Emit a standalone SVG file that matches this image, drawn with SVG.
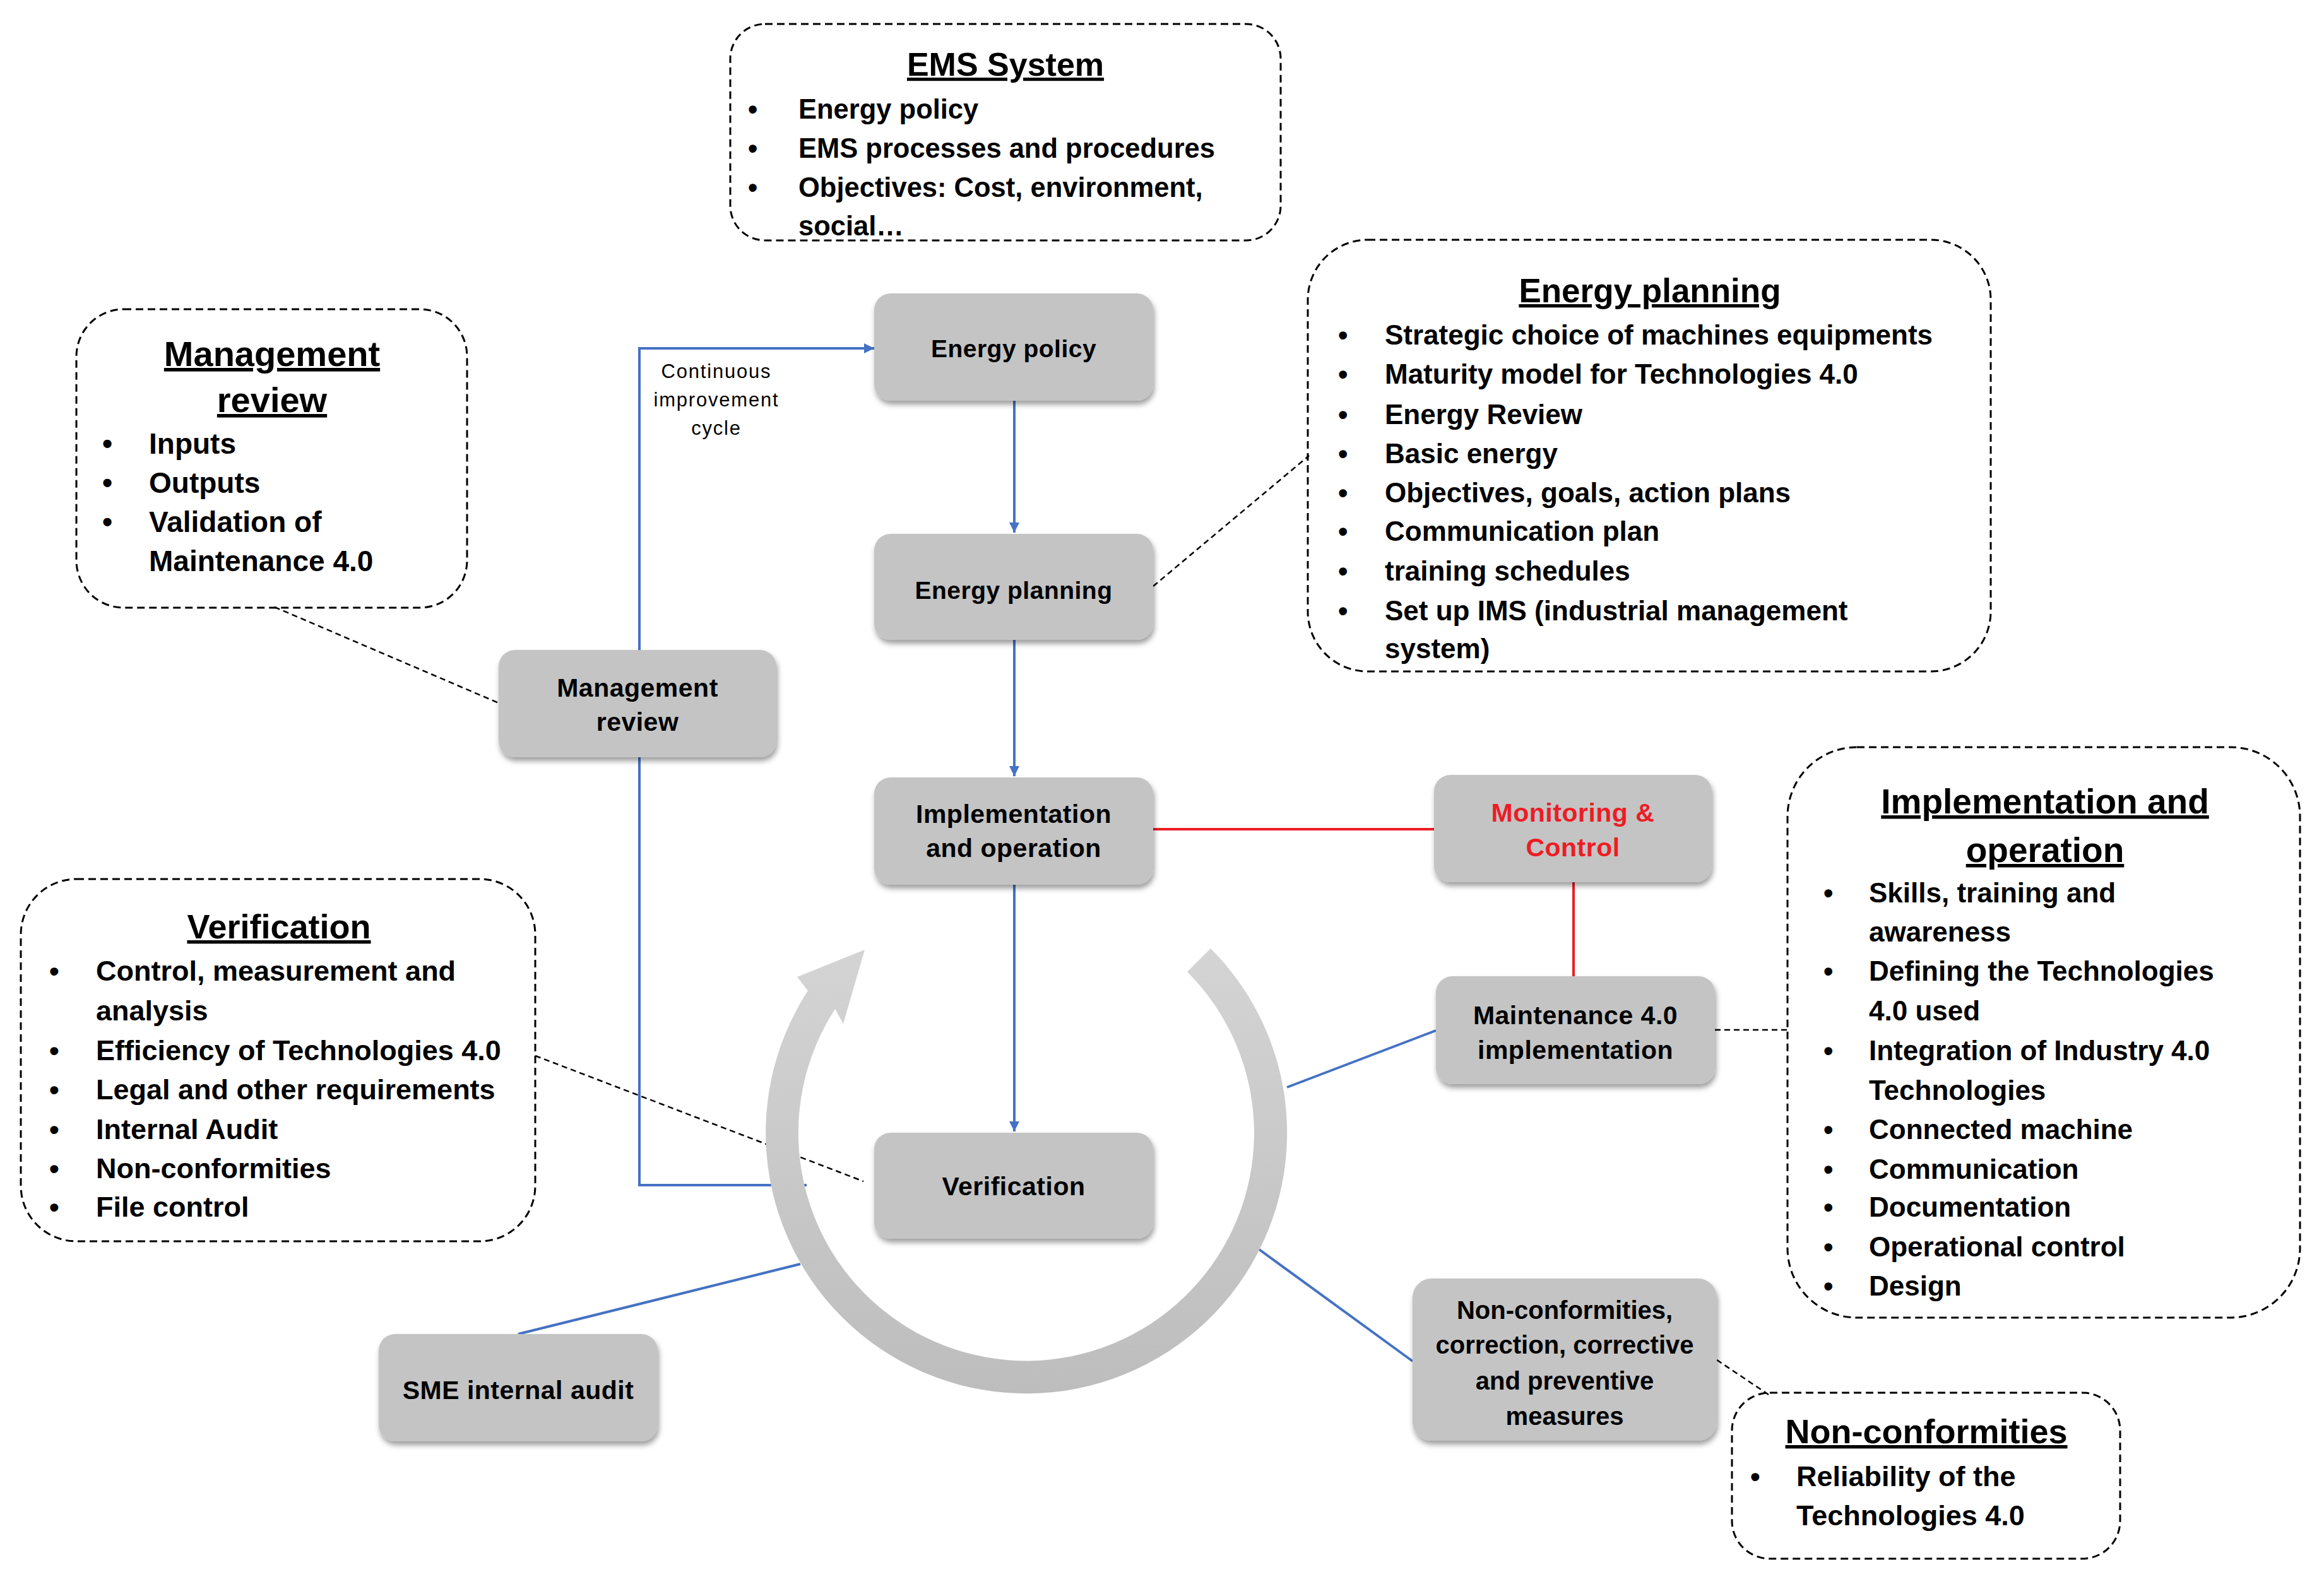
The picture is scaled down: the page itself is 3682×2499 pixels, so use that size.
<svg xmlns="http://www.w3.org/2000/svg" width="3682" height="2499" viewBox="0 0 3682 2499">
<defs>
<style>
.nd{fill:#c4c4c4;filter:url(#sh)}
.nt{font-family:"Liberation Sans",Arial,sans-serif;font-weight:bold;font-size:41px;text-anchor:middle;fill:#000;letter-spacing:0.5px}
.red-t{fill:#ed1c24}
.box{fill:none;stroke:#000;stroke-width:3;stroke-dasharray:12 7}
.bt{font-family:"Liberation Sans",Arial,sans-serif;font-weight:bold;fill:#000}
.ttl{text-anchor:middle;text-decoration:underline}
.blue{stroke:#4472c4;stroke-width:4;fill:none}
.red{stroke:#ed1c24;stroke-width:4;fill:none}
.dash{stroke:#000;stroke-width:2.5;stroke-dasharray:9 6;fill:none}
.ci{font-family:"Liberation Sans",Arial,sans-serif;font-size:31px;text-anchor:middle;fill:#000;letter-spacing:1.8px}
</style>
<filter id="sh" x="-10%" y="-10%" width="125%" height="135%">
<feDropShadow dx="2" dy="6" stdDeviation="4" flood-color="#000" flood-opacity="0.38"/>
</filter>
<marker id="ah" markerUnits="userSpaceOnUse" markerWidth="18" markerHeight="18" refX="16" refY="8" orient="auto">
<path d="M0,0 L16,8 L0,16 z" fill="#4472c4"/>
</marker>
<linearGradient id="arcg" x1="0" y1="0" x2="0" y2="1">
<stop offset="0" stop-color="#d4d4d4"/>
<stop offset="1" stop-color="#bdbdbd"/>
</linearGradient>
</defs>
<rect width="3682" height="2499" fill="#fff"/>

<g id="connectors">
<polyline class="blue" points="1278,1878 1013,1878 1013,552 1385,552" marker-end="url(#ah)"/>
<line class="blue" x1="1607" y1="635" x2="1607" y2="844" marker-end="url(#ah)"/>
<line class="blue" x1="1607" y1="1014" x2="1607" y2="1230" marker-end="url(#ah)"/>
<line class="blue" x1="1607" y1="1402" x2="1607" y2="1793" marker-end="url(#ah)"/>
<line class="red" x1="1827" y1="1314" x2="2272" y2="1314"/>
<line class="red" x1="2493" y1="1398" x2="2493" y2="1547"/>
<line class="blue" x1="821" y1="2114" x2="1268" y2="2003"/>
<line class="blue" x1="2039" y1="1723" x2="2275" y2="1633"/>
<line class="blue" x1="1995" y1="1980" x2="2238" y2="2157"/>
<line class="dash" x1="435" y1="962" x2="790" y2="1114"/>
<line class="dash" x1="1827" y1="929" x2="2074" y2="722"/>
<line class="dash" x1="848" y1="1673" x2="1368" y2="1872"/>
<line class="dash" x1="2717" y1="1632" x2="2832" y2="1632"/>
<line class="dash" x1="2720" y1="2155" x2="2802" y2="2210"/>
</g>

<g id="cycle-arrow">
<path d="M1918,1503 A413,413 0 1 1 1280,1570 L1263,1548 L1370,1505 L1336,1622 L1323,1599 A361,361 0 1 0 1881,1540 Z" fill="url(#arcg)"/>
</g>

<g id="ci-label">
<text class="ci" x="1135" y="599">Continuous</text>
<text class="ci" x="1135" y="644">improvement</text>
<text class="ci" x="1135" y="689">cycle</text>
</g>

<g id="node-energy-policy">
<rect class="nd" x="1385" y="465" width="442" height="170" rx="26"/>
<text class="nt" x="1606" y="566" style="font-size:39px">Energy policy</text>
</g>
<g id="node-energy-planning">
<rect class="nd" x="1385" y="846" width="442" height="168" rx="26"/>
<text class="nt" x="1606" y="949" style="font-size:39px">Energy planning</text>
</g>
<g id="node-implementation">
<rect class="nd" x="1385" y="1232" width="442" height="170" rx="26"/>
<text class="nt" x="1606" y="1304">Implementation</text>
<text class="nt" x="1606" y="1358">and operation</text>
</g>
<g id="node-verification">
<rect class="nd" x="1385" y="1795" width="442" height="168" rx="26"/>
<text class="nt" x="1606" y="1894">Verification</text>
</g>
<g id="node-management-review">
<rect class="nd" x="790" y="1030" width="440" height="170" rx="26"/>
<text class="nt" x="1010" y="1104">Management</text>
<text class="nt" x="1010" y="1158">review</text>
</g>
<g id="node-monitoring">
<rect class="nd" x="2272" y="1228" width="440" height="170" rx="26"/>
<text class="nt red-t" x="2492" y="1302">Monitoring &amp;</text>
<text class="nt red-t" x="2492" y="1357">Control</text>
</g>
<g id="node-maintenance">
<rect class="nd" x="2275" y="1547" width="442" height="171" rx="26"/>
<text class="nt" x="2496" y="1623">Maintenance 4.0</text>
<text class="nt" x="2496" y="1678">implementation</text>
</g>
<g id="node-sme-audit">
<rect class="nd" x="600" y="2114" width="442" height="170" rx="26"/>
<text class="nt" x="821" y="2217">SME internal audit</text>
</g>
<g id="node-nonconformities">
<rect class="nd" x="2238" y="2026" width="482" height="257" rx="30"/>
<text class="nt" x="2479" y="2090" style="font-size:40px;letter-spacing:0">Non-conformities,</text>
<text class="nt" x="2479" y="2145" style="font-size:40px;letter-spacing:0">correction, corrective</text>
<text class="nt" x="2479" y="2202" style="font-size:40px;letter-spacing:0">and preventive</text>
<text class="nt" x="2479" y="2258" style="font-size:40px;letter-spacing:0">measures</text>
</g>

<g id="box-ems-system">
<rect class="box" x="1157" y="38" width="872" height="343" rx="55"/>
<text class="bt ttl" x="1593" y="120" style="font-size:52px">EMS System</text>
<g class="bt" style="font-size:43.5px">
<text x="1185" y="188">•</text><text x="1265" y="188">Energy policy</text>
<text x="1185" y="250">•</text><text x="1265" y="250">EMS processes and procedures</text>
<text x="1185" y="312">•</text><text x="1265" y="312">Objectives: Cost, environment,</text>
<text x="1265" y="373">social…</text>
</g>
</g>

<g id="box-management-review">
<rect class="box" x="121" y="490" width="619" height="473" rx="75"/>
<text class="bt ttl" x="431" y="580" style="font-size:56px">Management</text>
<text class="bt ttl" x="431" y="653" style="font-size:56px">review</text>
<g class="bt" style="font-size:46px">
<text x="162" y="719">•</text><text x="236" y="719">Inputs</text>
<text x="162" y="781">•</text><text x="236" y="781">Outputs</text>
<text x="162" y="843">•</text><text x="236" y="843">Validation of</text>
<text x="236" y="905">Maintenance 4.0</text>
</g>
</g>

<g id="box-energy-planning">
<rect class="box" x="2072" y="380" width="1082" height="684" rx="95"/>
<text class="bt ttl" x="2614" y="479" style="font-size:53px">Energy planning</text>
<g class="bt" style="font-size:44px">
<text x="2120" y="546">•</text><text x="2194" y="546">Strategic choice of machines equipments</text>
<text x="2120" y="608">•</text><text x="2194" y="608">Maturity model for Technologies 4.0</text>
<text x="2120" y="672">•</text><text x="2194" y="672">Energy Review</text>
<text x="2120" y="734">•</text><text x="2194" y="734">Basic energy</text>
<text x="2120" y="796">•</text><text x="2194" y="796">Objectives, goals, action plans</text>
<text x="2120" y="857">•</text><text x="2194" y="857">Communication plan</text>
<text x="2120" y="920">•</text><text x="2194" y="920">training schedules</text>
<text x="2120" y="983">•</text><text x="2194" y="983">Set up IMS (industrial management</text>
<text x="2194" y="1043">system)</text>
</g>
</g>

<g id="box-implementation">
<rect class="box" x="2832" y="1184" width="812" height="904" rx="110"/>
<text class="bt ttl" x="3240" y="1289" style="font-size:55px">Implementation and</text>
<text class="bt ttl" x="3240" y="1366" style="font-size:55px">operation</text>
<g class="bt" style="font-size:44px">
<text x="2889" y="1430">•</text><text x="2961" y="1430">Skills, training and</text>
<text x="2961" y="1492">awareness</text>
<text x="2889" y="1554">•</text><text x="2961" y="1554">Defining the Technologies</text>
<text x="2961" y="1617">4.0 used</text>
<text x="2889" y="1680">•</text><text x="2961" y="1680">Integration of Industry 4.0</text>
<text x="2961" y="1743">Technologies</text>
<text x="2889" y="1805">•</text><text x="2961" y="1805">Connected machine</text>
<text x="2889" y="1868">•</text><text x="2961" y="1868">Communication</text>
<text x="2889" y="1928">•</text><text x="2961" y="1928">Documentation</text>
<text x="2889" y="1991">•</text><text x="2961" y="1991">Operational control</text>
<text x="2889" y="2053">•</text><text x="2961" y="2053">Design</text>
</g>
</g>

<g id="box-verification">
<rect class="box" x="33" y="1393" width="815" height="574" rx="88"/>
<text class="bt ttl" x="442" y="1487" style="font-size:54px">Verification</text>
<g class="bt" style="font-size:45px">
<text x="78" y="1554">•</text><text x="152" y="1554">Control, measurement and</text>
<text x="152" y="1617">analysis</text>
<text x="78" y="1680">•</text><text x="152" y="1680">Efficiency of Technologies 4.0</text>
<text x="78" y="1742">•</text><text x="152" y="1742">Legal and other requirements</text>
<text x="78" y="1805">•</text><text x="152" y="1805">Internal Audit</text>
<text x="78" y="1867">•</text><text x="152" y="1867">Non-conformities</text>
<text x="78" y="1928">•</text><text x="152" y="1928">File control</text>
</g>
</g>

<g id="box-nonconformities">
<rect class="box" x="2744" y="2207" width="615" height="263" rx="60"/>
<text class="bt ttl" x="3052" y="2287" style="font-size:54px">Non-conformities</text>
<g class="bt" style="font-size:45px">
<text x="2773" y="2355">•</text><text x="2846" y="2355">Reliability of the</text>
<text x="2846" y="2417">Technologies 4.0</text>
</g>
</g>
</svg>
